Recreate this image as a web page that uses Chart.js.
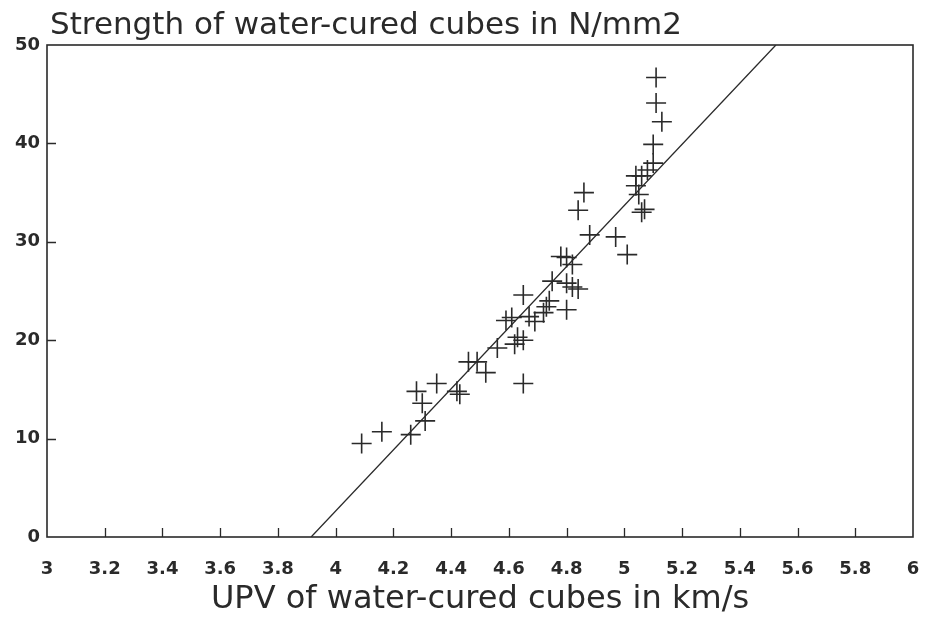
<!DOCTYPE html>
<html>
<head>
<meta charset="utf-8">
<script src="https://cdn.jsdelivr.net/npm/chart.js@4"></script>
<style>
  html, body { margin: 0; padding: 0; background: #fff; }
  #wrap { width: 934px; height: 619px; }
</style>
</head>
<body>
<div id="wrap"><canvas id="grafico"></canvas></div>
<script>
// dados
var upv = [4.09, 4.16, 4.26, 4.28, 4.30, 4.31, 4.35, 4.42, 4.43, 4.46, 4.49, 4.52,
  4.56, 4.62, 4.63, 4.65, 4.65, 4.59, 4.61, 4.65, 4.67, 4.69, 4.72, 4.73, 4.74,
  4.75, 4.80, 4.80, 4.82, 4.84, 4.78, 4.80, 4.82, 4.84, 4.86, 4.88, 4.97, 5.01,
  5.04, 5.04, 5.05, 5.06, 5.07, 5.08, 5.10, 5.10, 5.13, 5.11, 5.11, 5.06];
var resistencia = [9.5, 10.7, 10.4, 14.8, 13.6, 11.8, 15.6, 14.8, 14.5, 17.8, 17.8, 16.7,
  19.2, 19.6, 20.3, 20.0, 15.6, 22.0, 22.3, 24.6, 22.4, 21.9, 22.8, 23.4, 24.0,
  26.0, 23.1, 25.8, 25.4, 25.2, 28.5, 28.4, 27.7, 33.2, 35.0, 30.7, 30.5, 28.7,
  36.7, 35.7, 34.8, 33.0, 33.3, 37.3, 38.0, 39.9, 42.2, 44.1, 46.7, 36.7];

// reta de regressão (pontos extremos)
var retaX = [3.915, 5.525];
var retaY = [0, 50];

// rótulos dos eixos
var xTicks = [3, 3.2, 3.4, 3.6, 3.8, 4, 4.2, 4.4, 4.6, 4.8, 5, 5.2, 5.4, 5.6, 5.8, 6];
var yTicks = [0, 10, 20, 30, 40, 50];

var tituloY = "Strength of water-cured cubes in N/mm2";
var tituloX = "UPV of water-cured cubes in km/s";

var pontos = upv.map(function (x, i) { return { x: x, y: resistencia[i] }; });
var reta = retaX.map(function (x, i) { return { x: x, y: retaY[i] }; });

var corTraco = "#2a2a2a";
var fonte = "'DejaVu Sans', Verdana, sans-serif";

// moldura, marcas internas e título superior
var moldura = {
  id: "moldura",
  beforeDatasetsDraw: function (chart) {
    var ctx = chart.ctx;
    var a = chart.chartArea;
    var sx = chart.scales.x;
    var sy = chart.scales.y;
    ctx.save();
    ctx.strokeStyle = corTraco;
    ctx.lineWidth = 1.6;
    ctx.strokeRect(a.left, a.top, a.right - a.left, a.bottom - a.top);
    ctx.lineWidth = 1.3;
    ctx.beginPath();
    xTicks.slice(1, -1).forEach(function (v) {
      var px = Math.round(sx.getPixelForValue(v)) + 0.5;
      ctx.moveTo(px, a.bottom);
      ctx.lineTo(px, a.bottom - 9);
    });
    yTicks.slice(1, -1).forEach(function (v) {
      var py = Math.round(sy.getPixelForValue(v)) + 0.5;
      ctx.moveTo(a.left, py);
      ctx.lineTo(a.left + 9, py);
    });
    ctx.stroke();
    ctx.restore();
  },
  afterDraw: function (chart) {
    var ctx = chart.ctx;
    var a = chart.chartArea;
    ctx.save();
    ctx.fillStyle = corTraco;
    ctx.font = "31px " + fonte;
    ctx.textBaseline = "alphabetic";
    ctx.textAlign = "left";
    ctx.fillText(tituloY, a.left + 3, a.top - 11);
    ctx.restore();
  }
};

var ctx = document.getElementById("grafico").getContext("2d");
var grafico = new Chart(ctx, {
  type: "scatter",
  data: {
    datasets: [
      {
        label: "Cubos",
        data: pontos,
        pointStyle: "cross",
        pointRadius: 10,
        pointHoverRadius: 10,
        borderColor: corTraco,
        borderWidth: 1.6,
        backgroundColor: corTraco
      },
      {
        label: "Regressão",
        data: reta,
        showLine: true,
        pointRadius: 0,
        borderColor: corTraco,
        borderWidth: 1.3,
        fill: false
      }
    ]
  },
  options: {
    responsive: true,
    maintainAspectRatio: false,
    animation: false,
    layout: { padding: { top: 45, right: 21, left: 0, bottom: 0 } },
    plugins: {
      legend: { display: false },
      tooltip: { enabled: false }
    },
    scales: {
      x: {
        type: "linear",
        min: 3,
        max: 6,
        afterBuildTicks: function (s) {
          s.ticks = xTicks.map(function (v) { return { value: v }; });
        },
        afterFit: function (s) { s.height = 82; },
        // só o espaço das marcas, que são desenhadas pelo plugin
        grid: { display: false, drawTicks: true, tickLength: 8 },
        border: { display: false },
        ticks: {
          autoSkip: false,
          maxRotation: 0,
          padding: 14,
          color: corTraco,
          font: { family: fonte, size: 18, weight: "bold" },
          callback: function (v) { return String(Math.round(v * 10) / 10); }
        },
        title: {
          display: true,
          text: tituloX,
          color: corTraco,
          padding: { top: 0, bottom: 0 },
          font: { family: fonte, size: 32 }
        }
      },
      y: {
        type: "linear",
        min: 0,
        max: 50,
        afterBuildTicks: function (s) {
          s.ticks = yTicks.map(function (v) { return { value: v }; });
        },
        afterFit: function (s) { s.width = 47; },
        grid: { display: false, drawTicks: false },
        border: { display: false },
        ticks: {
          padding: 7,
          color: corTraco,
          font: { family: fonte, size: 18, weight: "bold" }
        }
      }
    }
  },
  plugins: [moldura]
});
</script>
</body>
</html>
